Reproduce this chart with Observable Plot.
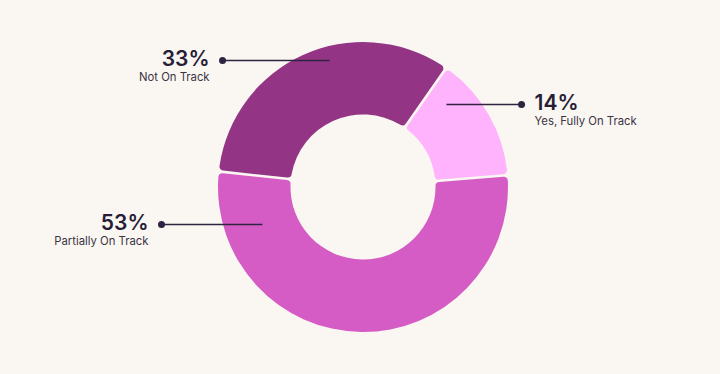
<!DOCTYPE html>
<html>
<head>
<meta charset="utf-8">
<script src="https://cdn.jsdelivr.net/npm/d3@7"></script>
<script src="https://cdn.jsdelivr.net/npm/@observablehq/plot@0.6"></script>
<style>
  html, body { margin: 0; padding: 0; background: #faf7f2; }
  #chart { width: 720px; height: 374px; }
</style>
</head>
<body>
<div id="chart"></div>
<script>
// ---- Data ----
const categories = ["Yes, Fully On Track", "Partially On Track", "Not On Track"];
const values = [14, 53, 33];
const percentLabels = ["14%", "53%", "33%"];

// ---- Styling / layout (kept separate from data) ----
const colors = ["#ffb3fd", "#d55cc4", "#933584"];
const startAngle = 0.61;           // radians, clockwise from 12 o'clock
const innerRatio = 0.5;            // inner radius / outer radius
// annotation layout in chart units (donut centre = 0,0 ; outer radius = 1)
const leaderY     = [0.572, -0.255, 0.876];
const leaderDotX  = [1.090, -1.393, -0.972];
const leaderEndX  = [0.572, -0.697, -0.234];
const labelSide   = ["start", "end", "end"];

const data = categories.map((c, i) => ({
  category: c, value: values[i], pct: percentLabels[i], color: colors[i],
  y: leaderY[i], xDot: leaderDotX[i], xEnd: leaderEndX[i], side: labelSide[i]
}));

const pie = d3.pie().value(d => d.value).sort(null)
  .startAngle(startAngle).endAngle(startAngle + 2 * Math.PI);
const arcs = pie(data);

function donut(index, scales) {
  const x = scales.x, y = scales.y;
  const cx = x(0), cy = y(0);
  const R = Math.abs(x(1) - x(0));
  const arc = d3.arc().innerRadius(R * innerRatio).outerRadius(R)
    .padAngle(0.016).cornerRadius(4);
  const g = d3.create("svg:g").attr("transform", `translate(${cx},${cy})`);
  g.selectAll("path").data(arcs).join("path")
    .attr("d", arc).attr("fill", d => d.data.color);
  return g.node();
}

const textColor = "#271d36";
const subColor = "#3a3344";
const plot = Plot.plot({
  width: 720,
  height: 374,
  margin: 0,
  x: { domain: [-363 / 145, 357 / 145], axis: null },
  y: { domain: [-1.29, 1.29], axis: null },
  style: { background: "#faf7f2", fontFamily: "Inter, 'Noto Sans', sans-serif" },
  marks: [
    donut,
    Plot.link(data, { x1: "xDot", y1: "y", x2: "xEnd", y2: "y", stroke: "#2e2340", strokeWidth: 1.5 }),
    Plot.dot(data, { x: "xDot", y: "y", r: 3.5, fill: "#2e2340" }),
    Plot.text(data.filter(d => d.side === "start"), { x: "xDot", y: "y", text: "pct", textAnchor: "start", dx: 13, dy: -1, fontSize: 21, fontWeight: 600, fill: textColor }),
    Plot.text(data.filter(d => d.side === "start"), { x: "xDot", y: "y", text: "category", textAnchor: "start", dx: 13, dy: 16.5, fontSize: 11.3, fill: subColor }),
    Plot.text(data.filter(d => d.side === "end"), { x: "xDot", y: "y", text: "pct", textAnchor: "end", dx: -13, dy: -1, fontSize: 21, fontWeight: 600, fill: textColor }),
    Plot.text(data.filter(d => d.side === "end"), { x: "xDot", y: "y", text: "category", textAnchor: "end", dx: -13, dy: 16.5, fontSize: 11.3, fill: subColor })
  ]
});
document.getElementById("chart").appendChild(plot);
</script>
</body>
</html>
